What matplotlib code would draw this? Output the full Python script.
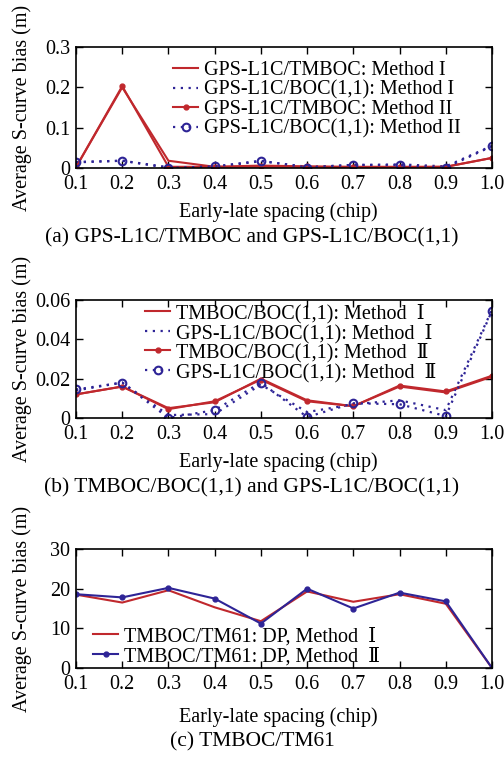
import numpy as np
import matplotlib
matplotlib.use('Agg')
import matplotlib.pyplot as plt

plt.rcParams['font.family'] = ['Liberation Serif', 'DejaVu Serif', 'Noto Sans CJK SC']
plt.rcParams['font.size'] = 14.5

W, H = 504, 759
RED = '#c0282d'
BLUE = '#2e2496'

spacing = [0.1, 0.2, 0.3, 0.4, 0.5, 0.6, 0.7, 0.8, 0.9, 1.0]

# (a) GPS-L1C/TMBOC and GPS-L1C/BOC(1,1)
a_tmboc_m1 = [0.002, 0.200, 0.018, 0.003, 0.003, 0.003, 0.002, 0.002, 0.003, 0.025]
a_boc_m1 = [0.014, 0.018, 0.002, 0.002, 0.017, 0.003, 0.007, 0.009, 0.004, 0.055]
a_tmboc_m2 = [0.002, 0.203, 0.003, 0.003, 0.006, 0.004, 0.003, 0.003, 0.003, 0.025]
a_boc_m2 = [0.015, 0.018, 0.000, 0.004, 0.018, 0.001, 0.008, 0.007, 0.001, 0.054]

# (b) TMBOC/BOC(1,1) and GPS-L1C/BOC(1,1)
b_tmboc_m1 = [0.012, 0.016, 0.005, 0.008, 0.020, 0.009, 0.006, 0.016, 0.013, 0.021]
b_boc_m1 = [0.014, 0.018, 0.0015, 0.002, 0.017, 0.003, 0.007, 0.009, 0.004, 0.055]
b_tmboc_m2 = [0.012, 0.016, 0.0045, 0.0085, 0.0195, 0.0085, 0.006, 0.0165, 0.0135, 0.0215]
b_boc_m2 = [0.0145, 0.018, 0.0, 0.004, 0.018, 0.0005, 0.0075, 0.007, 0.001, 0.0545]

# (c) TMBOC/TM61
c_m1 = [18.5, 16.5, 19.6, 15.3, 11.8, 19.3, 16.7, 18.6, 16.2, 0.0]
c_m2 = [18.6, 17.8, 20.2, 17.5, 11.2, 20.0, 15.0, 19.0, 16.8, 0.0]

fig = plt.figure(figsize=(W / 100, H / 100), dpi=100)


def make_axes(top, bottom):
    left, right = 76, 492
    ax = fig.add_axes([left / W, 1 - bottom / H, (right - left) / W, (bottom - top) / H])
    ax.set_xlim(0.1, 1.0)
    ax.set_xticks(spacing)
    ax.set_xticklabels(['%.1f' % s for s in spacing])
    ax.tick_params(direction='in', top=True, right=True, length=5, width=1, labelsize=14.5)
    ax.tick_params(axis='x', pad=5)
    ax.tick_params(axis='y', pad=4)
    for sp in ax.spines.values():
        sp.set_linewidth(1.2)
    ycen = 1 - (top + bottom) / 2 / H
    ax.set_ylabel('Average S-curve bias (m)', va='center', fontsize=14.5)
    ax.yaxis.set_label_coords(22 / W, ycen, transform=fig.transFigure)
    return ax


def finish(ax, xl_y, cap_y, caption):
    ax.set_xlabel('Early-late spacing (chip)', va='center', fontsize=14.5)
    ax.xaxis.set_label_coords(278 / W, 1 - xl_y / H, transform=fig.transFigure)
    fig.text(0.5, 1 - cap_y / H, caption, ha='center', va='center', fontsize=15.5)


def legend(ax, x, top, ls):
    ax.legend(loc='upper left', bbox_to_anchor=(x / W, 1 - top / H), bbox_transform=fig.transFigure,
              frameon=False, fontsize=14.5, borderpad=0, borderaxespad=0, labelspacing=ls,
              handlelength=1.25, handletextpad=0.3)


dot = (0, (1, 2.5))

# panel (a)
ax = make_axes(47, 168)
ax.plot(spacing, a_tmboc_m1, color=RED, lw=1.5, label='GPS-L1C/TMBOC: Method I')
ax.plot(spacing, a_boc_m1, color=BLUE, lw=1.6, ls=dot, label='GPS-L1C/BOC(1,1): Method I')
ax.plot(spacing, a_tmboc_m2, color=RED, lw=1.5, marker='o', ms=3.5,
        label='GPS-L1C/TMBOC: Method II')
ax.plot(spacing, a_boc_m2, color=BLUE, lw=1.6, ls=dot, marker='o', ms=5.5, mfc='none',
        mew=1.5, label='GPS-L1C/BOC(1,1): Method II')
ax.set_ylim(0, 0.3)
ax.set_yticks([0, 0.1, 0.2, 0.3])
ax.set_yticklabels(['0', '0.1', '0.2', '0.3'])
legend(ax, 173, 61, 0.02)
finish(ax, 212, 238, '(a) GPS-L1C/TMBOC and GPS-L1C/BOC(1,1)')

# panel (b)
ax = make_axes(300, 418)
ax.plot(spacing, b_tmboc_m1, color=RED, lw=1.5, label='TMBOC/BOC(1,1): Method  \u2160')
ax.plot(spacing, b_boc_m1, color=BLUE, lw=1.6, ls=dot, label='GPS-L1C/BOC(1,1): Method  \u2160')
ax.plot(spacing, b_tmboc_m2, color=RED, lw=1.5, marker='o', ms=3.5,
        label='TMBOC/BOC(1,1): Method  \u2161')
ax.plot(spacing, b_boc_m2, color=BLUE, lw=1.6, ls=dot, marker='o', ms=5.5, mfc='none',
        mew=1.5, label='GPS-L1C/BOC(1,1): Method  \u2161')
ax.set_ylim(0, 0.06)
ax.set_yticks([0, 0.02, 0.04, 0.06])
ax.set_yticklabels(['0', '0.02', '0.04', '0.06'])
legend(ax, 145, 304, 0.0)
finish(ax, 462, 488, '(b) TMBOC/BOC(1,1) and GPS-L1C/BOC(1,1)')

# panel (c)
ax = make_axes(549, 668)
ax.plot(spacing, c_m1, color=RED, lw=1.5, label='TMBOC/TM61: DP, Method  \u2160')
ax.plot(spacing, c_m2, color=BLUE, lw=1.5, marker='o', ms=3.5,
        label='TMBOC/TM61: DP, Method  \u2161')
ax.set_ylim(0, 30)
ax.set_yticks([0, 10, 20, 30])
legend(ax, 93, 627, 0.05)
finish(ax, 717, 742, '(c) TMBOC/TM61')

fig.savefig('out.png', dpi=100)
